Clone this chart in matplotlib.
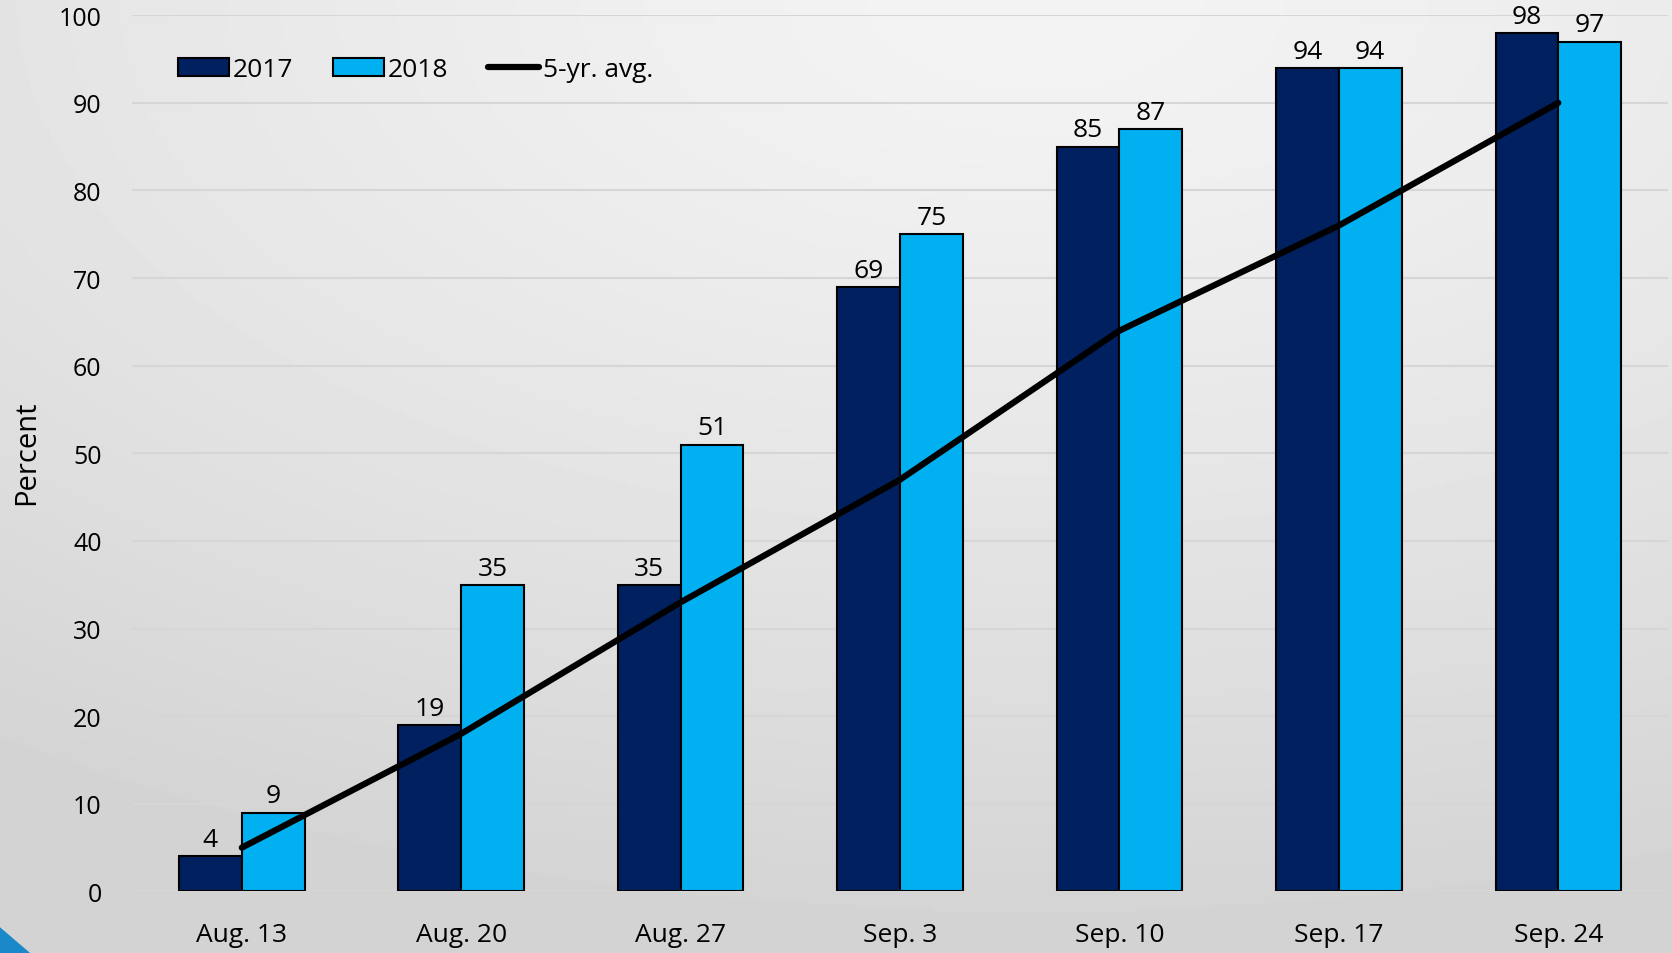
import numpy as np
import matplotlib.pyplot as plt
from matplotlib.patches import Polygon
from matplotlib.lines import Line2D
from matplotlib.patches import Patch

plt.rcParams['font.family'] = ['Open Sans', 'DejaVu Sans']

# Weekly progress, percent
weeks = ['Aug. 13', 'Aug. 20', 'Aug. 27', 'Sep. 3', 'Sep. 10', 'Sep. 17', 'Sep. 24']
pct_2017 = [4, 19, 35, 69, 85, 94, 98]
pct_2018 = [9, 35, 51, 75, 87, 94, 97]
avg_5yr = [5, 18, 33, 47, 64, 76, 90]

dark = '#002060'
light = '#00b0f0'

fig = plt.figure(figsize=(16.72, 9.54), dpi=100)

# soft grey background, lighter towards the top centre
bg = fig.add_axes([0, 0, 1, 1], zorder=-10)
yy, xx = np.mgrid[0:1:300j, 0:1:500j]
r = np.sqrt(((xx - 0.62) / 1.1) ** 2 + ((yy - 0.0) / 1.0) ** 2)
shade = 0.955 - 0.13 * np.clip(r, 0, 1) ** 1.3
bg.imshow(shade, cmap='gray', vmin=0, vmax=1, extent=[0, 1, 0, 1],
          origin='upper', aspect='auto')
bg.add_patch(Polygon([[0, 0], [0, 0.027], [0.018, 0]], closed=True,
                     facecolor='#1a88c9', edgecolor='none'))
bg.set_xlim(0, 1)
bg.set_ylim(0, 1)
bg.axis('off')

ax = fig.add_axes([0.079, 0.0645, 0.9186, 0.9185])
ax.patch.set_alpha(0)

x = np.arange(len(weeks))
w = 0.286
b1 = ax.bar(x - w / 2, pct_2017, w, color=dark, edgecolor='black', linewidth=1.5, zorder=3)
b2 = ax.bar(x + w / 2, pct_2018, w, color=light, edgecolor='black', linewidth=1.5, zorder=3)
ax.plot(x, avg_5yr, color='black', linewidth=4.5, solid_capstyle='round', zorder=4)

for rect, v in zip(list(b1) + list(b2), pct_2017 + pct_2018):
    ax.annotate(str(v), (rect.get_x() + rect.get_width() / 2, v),
                xytext=(0, 3), textcoords='offset points',
                ha='center', va='bottom', fontsize=19, color='black', zorder=5)

ax.set_xlim(-0.5, 6.5)
ax.set_ylim(0, 100)
ax.set_yticks(range(0, 101, 10))
ax.set_xticks(x)
ax.set_xticklabels(weeks)
ax.tick_params(axis='x', length=0, pad=22, labelsize=19)
ax.tick_params(axis='y', length=0, pad=22, labelsize=18)
ax.yaxis.grid(True, color='#d6d6d6', linewidth=1.5, zorder=0)
ax.set_axisbelow(True)
for s in ['top', 'right', 'left', 'bottom']:
    ax.spines[s].set_visible(False)
fig.text(0.016, 0.525, 'Percent', rotation=90, ha='center', va='center', fontsize=21)

handles = [Patch(facecolor=dark, edgecolor='black', linewidth=1.5),
           Patch(facecolor=light, edgecolor='black', linewidth=1.5),
           Line2D([0], [0], color='black', linewidth=4.5, solid_capstyle='round')]
ax.legend(handles, ['2017', '2018', '5-yr. avg.'], ncol=3, frameon=False,
          loc='upper left', bbox_to_anchor=(0.03, 0.952), fontsize=19,
          handlelength=1.93, handleheight=0.72, handletextpad=0.15, columnspacing=1.5,
          borderaxespad=0, borderpad=0)

fig.savefig('out.png', dpi=100)
